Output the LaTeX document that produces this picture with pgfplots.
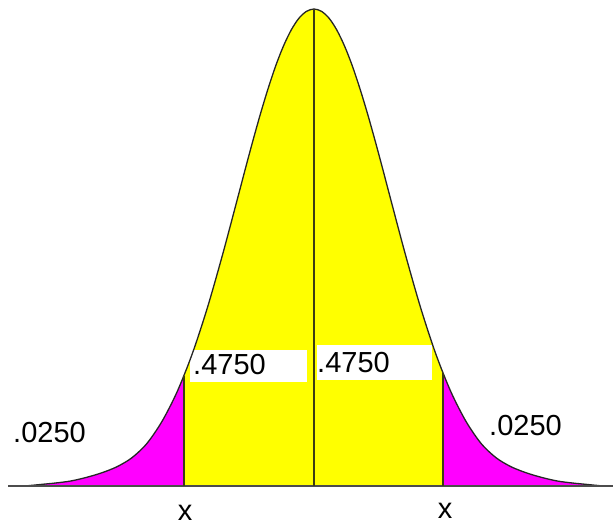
\documentclass[border=0pt]{standalone}
\usepackage{fontspec}
\setmainfont{Liberation Sans}
\usepackage{pgfplots}
\usepackage{pgfplotstable}
\pgfplotsset{compat=1.18}
\usepgfplotslibrary{fillbetween}
\definecolor{areaY}{RGB}{255,255,0}
\definecolor{areaM}{RGB}{255,0,255}
\definecolor{cutline}{RGB}{60,60,20}

% normal curve (x and y in pixels, y upwards)
\pgfplotstableread{
x y
25.2 41.0
40.4 42.5
55.6 44.0
70.8 46.0
86.0 49.5
101.2 54.0
116.4 60.0
131.6 69.0
146.8 83.4
162.0 105.6
177.2 135.4
192.4 173.6
207.6 220.0
222.8 273.2
238.0 330.3
245.6 359.2
253.2 387.4
260.8 414.4
268.4 439.4
276.0 462.0
283.6 481.3
291.2 497.0
298.8 508.6
306.4 515.6
314.0 518.0
321.6 515.6
329.2 508.6
336.8 497.0
344.4 481.3
352.0 462.0
359.6 439.4
367.2 414.4
374.8 387.4
382.4 359.2
390.0 330.3
405.2 273.2
420.4 220.0
435.6 173.6
450.8 135.4
466.0 105.6
481.2 83.4
496.4 69.0
511.6 60.0
526.8 54.0
542.0 49.5
557.2 46.0
572.4 44.0
587.6 42.5
602.8 41.0
}\curve

\begin{document}
\begin{tikzpicture}
\begin{axis}[
  hide axis, scale only axis,
  width=613pt, height=527pt,
  xmin=0, xmax=613, ymin=0, ymax=527,
  at={(0,0)}, anchor=origin,
  clip=false,
]
\addplot[draw=none, smooth, name path=curve] table {\curve};
\addplot[draw=none, name path=base] coordinates {(8,41)(613,41)};

\addplot[areaM] fill between[of=curve and base, soft clip={domain=20:184}];
\addplot[areaY] fill between[of=curve and base, soft clip={domain=184:443}];
\addplot[areaM] fill between[of=curve and base, soft clip={domain=443:610}];

% white label boxes
\addplot[fill=white, draw=none] coordinates {(190,145)(307,145)(307,177)(190,177)};
\addplot[fill=white, draw=none] coordinates {(317,147)(432,147)(432,182)(317,182)};

% curve, baseline, cut lines
\addplot[black!85, line width=1.3pt, smooth] table {\curve};
\addplot[black!70, line width=1.3pt] coordinates {(8,41)(613,41)};
\addplot[cutline, line width=1.2pt] coordinates {(184,41)(184,151)};
\addplot[cutline, line width=1.2pt] coordinates {(314,41)(314,518)};
\addplot[cutline, line width=1.2pt] coordinates {(443,41)(443,154)};

\begin{scope}[every node/.style={inner sep=0pt, font=\fontsize{29}{34}\selectfont}]
\node[anchor=base west] at (axis cs:193,152) {.4750};
\node[anchor=base west] at (axis cs:317,154) {.4750};
\node[anchor=base west] at (axis cs:13,84) {.0250};
\node[anchor=base west] at (axis cs:489,91) {.0250};
\node[anchor=base] at (axis cs:185,6) {x};
\node[anchor=base] at (axis cs:445,8) {x};
\end{scope}
\end{axis}
\pgfresetboundingbox
\useasboundingbox (0,0) rectangle (613pt,527pt);
\end{tikzpicture}
\end{document}
